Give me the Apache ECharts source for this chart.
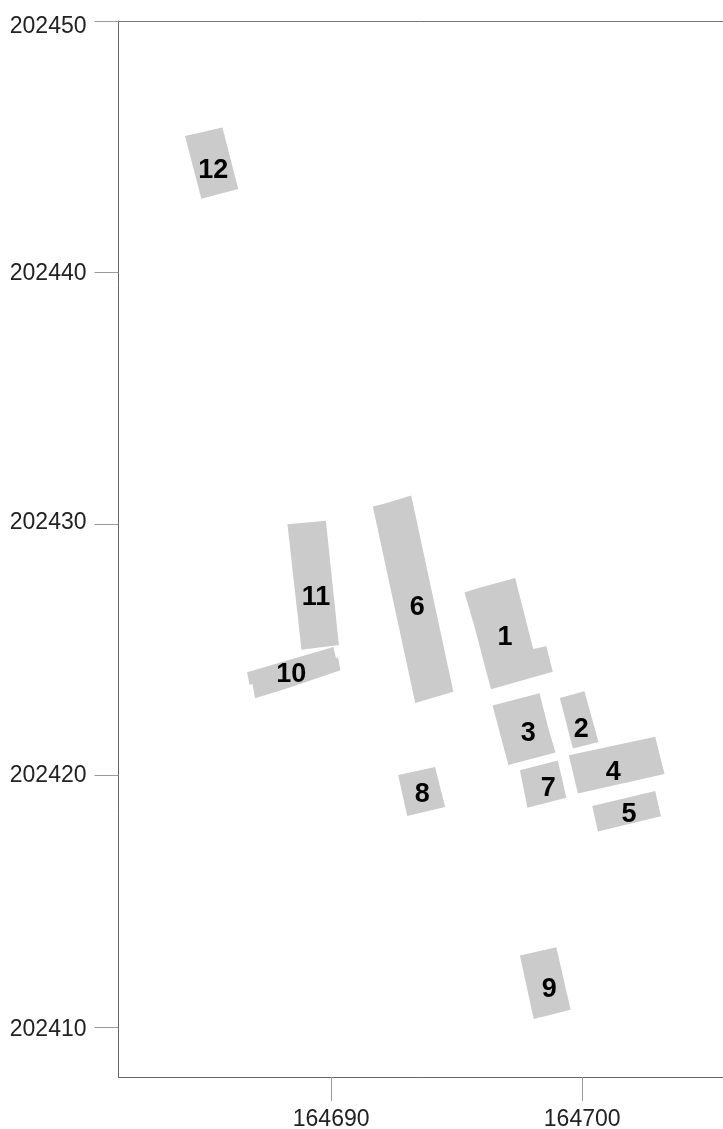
<!DOCTYPE html>
<html>
<head>
<meta charset="utf-8">
<style>html,body{margin:0;padding:0;background:#fff}#c{width:723px;height:1129px}</style>
<script src="https://cdn.jsdelivr.net/npm/echarts@6/dist/echarts.min.js"></script>
</head>
<body>
<div id="c"></div>
<script>
const xTicks = [164690, 164700];
const yTicks = [202410, 202420, 202430, 202440, 202450];
const yTickPadding = [[6, 0, 0, 0], [0, 0, 0, 0], [0, 0, 2, 0], [2, 0, 0, 0], [12, 0, 0, 0]];
const xRange = [164681.53, 164705.61];
const yRange = [202408.01, 202450];

const buildingIds = [1, 2, 3, 4, 5, 6, 7, 8, 9, 10, 11, 12];
const labelX = [164696.93, 164699.96, 164697.85, 164701.24, 164701.87, 164693.43, 164698.65, 164693.63, 164698.69, 164688.41, 164689.40, 164685.30];
const labelY = [202425.55, 202421.89, 202421.73, 202420.18, 202418.51, 202426.74, 202419.54, 202419.34, 202411.55, 202424.08, 202427.14, 202444.12];

const outline1 = [[164695.31,202427.28],[164695.84,202427.44],[164697.33,202427.85],[164698.05,202425.03],[164698.57,202425.14],[164698.83,202424.12],[164696.93,202423.59],[164696.37,202423.43],[164696.11,202424.39],[164695.71,202425.92]];
const outline2 = [[164699.11,202423.08],[164700.09,202423.35],[164700.65,202421.33],[164699.63,202421.07]];
const outline3 = [[164696.43,202422.78],[164698.30,202423.27],[164698.69,202421.74],[164698.79,202421.41],[164698.94,202420.91],[164697.06,202420.42]];
const outline4 = [[164699.47,202420.80],[164702.91,202421.54],[164703.28,202420.06],[164699.83,202419.28]];
const outline5 = [[164700.40,202418.79],[164702.91,202419.38],[164703.14,202418.38],[164700.63,202417.77]];
const outline6 = [[164691.66,202430.69],[164692.18,202430.82],[164693.19,202431.13],[164694.87,202423.33],[164693.35,202422.88]];
const outline7 = [[164697.52,202420.21],[164699.03,202420.60],[164699.37,202419.11],[164697.82,202418.72]];
const outline8 = [[164692.67,202420.02],[164694.14,202420.34],[164694.54,202418.75],[164693.03,202418.39]];
const outline9 = [[164697.52,202412.84],[164698.97,202413.17],[164699.54,202410.68],[164698.07,202410.32]];
const outline10 = [[164686.65,202424.10],[164690.09,202425.11],[164690.19,202424.68],[164690.28,202424.68],[164690.37,202424.18],[164688.53,202423.56],[164688.04,202423.40],[164686.97,202423.07],[164686.86,202423.65],[164686.75,202423.60]];
const outline11 = [[164688.26,202429.99],[164689.79,202430.13],[164690.31,202425.19],[164688.82,202425.00]];
const outline12 = [[164684.18,202445.43],[164685.67,202445.77],[164686.30,202443.32],[164684.83,202442.93]];
const outlines = [outline1,outline2,outline3,outline4,outline5,outline6,outline7,outline8,outline9,outline10,outline11,outline12];

const textFont = '"Liberation Sans", Arial, sans-serif';
const yRich = {};
yTicks.forEach((v, i) => {
  yRich['t' + v] = {padding: yTickPadding[i], color: '#222', fontSize: 23, fontFamily: textFont};
});
const chart = echarts.init(document.getElementById('c'), null, {renderer: 'canvas'});
chart.setOption({
  animation: false,
  backgroundColor: '#fff',
  grid: {left: 118.5, right: 0, top: 21, bottom: 52, outerBoundsMode: 'none', containLabel: false},
  xAxis: [
    {type: 'value', min: xRange[0], max: xRange[1], position: 'bottom',
     splitLine: {show: false},
     axisLine: {show: true, lineStyle: {color: '#666', width: 1}},
     axisTick: {show: true, length: 24, customValues: xTicks, lineStyle: {color: '#999', width: 1}},
     axisLabel: {show: true, margin: 31, customValues: xTicks, color: '#222', fontSize: 23, fontFamily: textFont, formatter: v => String(v)}},
    {type: 'value', min: xRange[0], max: xRange[1], position: 'top',
     splitLine: {show: false},
     axisLine: {show: true, lineStyle: {color: '#777', width: 1}},
     axisTick: {show: false}, axisLabel: {show: false}}
  ],
  yAxis: {type: 'value', min: yRange[0], max: yRange[1],
     splitLine: {show: false},
     axisLine: {show: true, lineStyle: {color: '#666', width: 1}},
     axisTick: {show: true, length: 24, customValues: yTicks, lineStyle: {color: '#999', width: 1}},
     axisLabel: {show: true, margin: 32, customValues: yTicks, color: '#222', fontSize: 23, fontFamily: textFont, rich: yRich, formatter: v => '{t' + v + '|' + v + '}'}},
  series: [
    {type: 'custom', coordinateSystem: 'cartesian2d', xAxisIndex: 0, yAxisIndex: 0,
     silent: true, clip: false,
     data: buildingIds.map((id, i) => [labelX[i], labelY[i], id]),
     encode: {x: 0, y: 1},
     renderItem: (params, api) => ({
       type: 'polygon',
       shape: {points: outlines[params.dataIndex].map(p => api.coord(p))},
       style: {fill: '#cbcbcb'}
     })},
    {type: 'scatter', xAxisIndex: 0, yAxisIndex: 0, symbolSize: 0, silent: true,
     itemStyle: {opacity: 1},
     data: buildingIds.map((id, i) => [labelX[i], labelY[i], id]),
     label: {show: true, position: 'inside', offset: [0, 2], formatter: p => String(p.value[2]),
       color: '#000', fontWeight: 'bold', fontSize: 27, fontFamily: textFont}}
  ]
});
</script>
</body>
</html>
